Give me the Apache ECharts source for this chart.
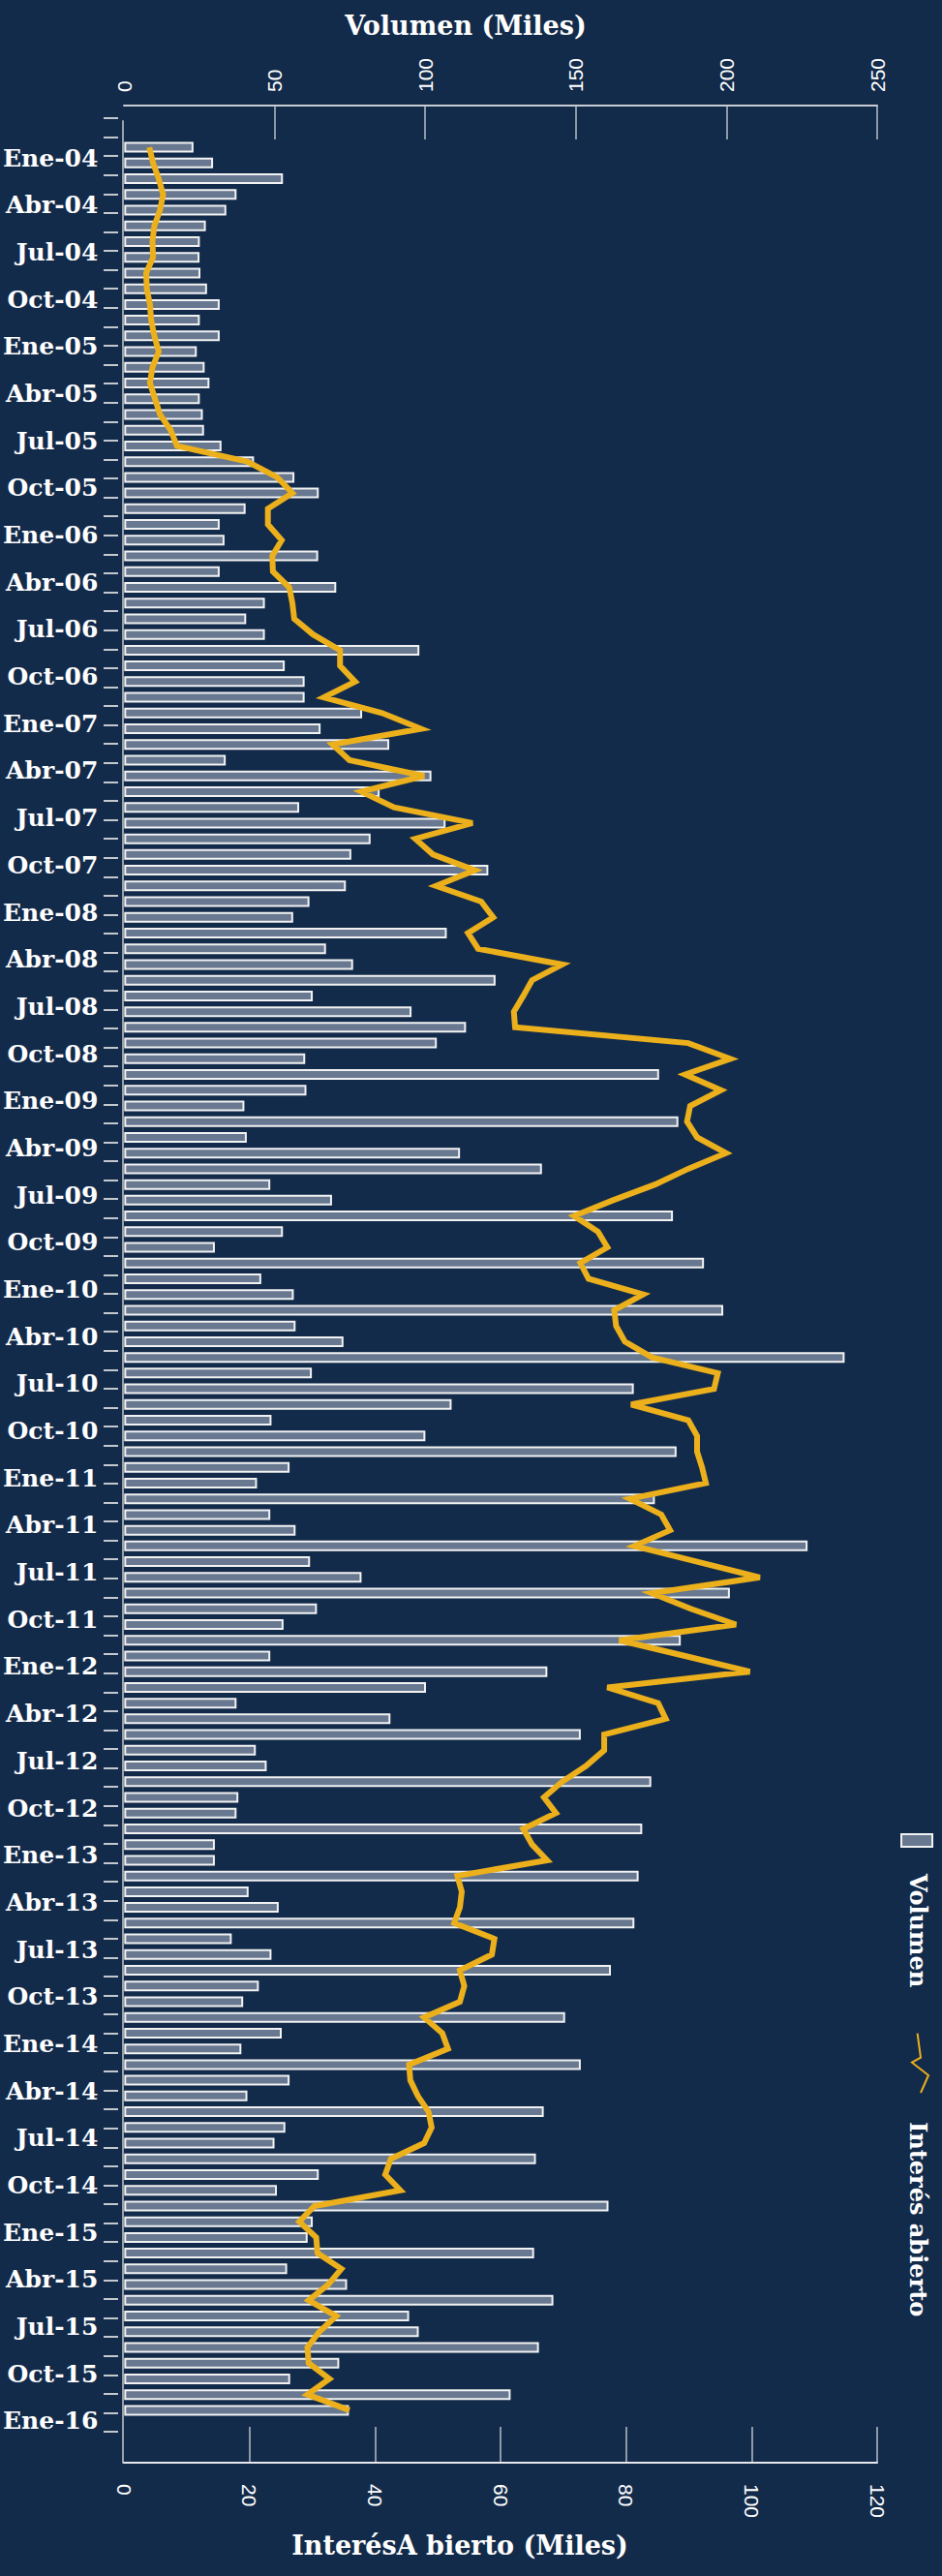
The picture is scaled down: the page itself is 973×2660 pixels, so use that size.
<!DOCTYPE html>
<html><head><meta charset="utf-8">
<script src="https://cdn.jsdelivr.net/npm/echarts@6/dist/echarts.min.js"></script>
<style>html,body{margin:0;padding:0;background:#132b4b;}#c{width:973px;height:2660px;}</style>
</head><body><div id="c"></div>
<script>
// ---- DATA ----
const monthNames = ['Ene','Feb','Mar','Abr','May','Jun','Jul','Ago','Sep','Oct','Nov','Dic'];
const yearLabels = ['04','05','06','07','08','09','10','11','12','13','14','15','16'];
const categories = [];
yearLabels.forEach(function (y) { monthNames.forEach(function (m) { categories.push(m + '-' + y); }); });
categories.length = 145; // Ene-04 ... Ene-16

const volumeTicks = [0, 50, 100, 150, 200, 250];
const openInterestTicks = [0, 20, 40, 60, 80, 100, 120];

// Volumen (Miles)
const volume = [
  23.0, 29.5, 52.7, 37.3, 33.9, 27.1, 25.1, 25.0, 25.3, 27.5, 31.7, 25.1,
  31.7, 24.1, 26.7, 28.3, 25.1, 26.1, 26.5, 32.3, 43.1, 56.5, 64.6, 40.3,
  31.7, 33.3, 64.4, 31.7, 70.4, 46.7, 40.5, 46.7, 98.0, 53.3, 59.9, 59.9,
  79.0, 65.2, 88.0, 33.7, 102.0, 84.8, 58.1, 106.7, 81.8, 75.4, 120.9, 73.6,
  61.5, 56.1, 107.1, 67.0, 76.0, 123.3, 62.6, 95.4, 113.5, 103.8, 60.1, 177.6,
  60.5, 39.9, 184.0, 40.7, 111.5, 138.7, 48.5, 69.0, 182.2, 52.7, 30.1, 192.5,
  45.5, 56.3, 198.9, 56.9, 72.8, 239.2, 62.3, 169.2, 108.7, 48.9, 100.0, 183.4,
  54.9, 44.1, 176.2, 48.5, 56.9, 226.9, 61.7, 78.8, 201.1, 64.0, 52.9, 184.8,
  48.5, 140.5, 100.2, 37.3, 88.4, 151.6, 43.7, 47.3, 175.0, 37.9, 37.3, 172.0,
  30.1, 30.1, 170.8, 41.3, 51.3, 169.4, 35.7, 48.9, 161.6, 44.7, 39.5, 146.4,
  52.3, 38.9, 151.6, 54.9, 40.9, 139.3, 53.5, 49.9, 136.7, 64.6, 50.7, 160.8,
  62.6, 60.9, 136.1, 54.1, 74.0, 142.5, 94.6, 97.8, 137.7, 71.4, 55.1, 128.3,
  74.6
];

// Interés abierto (Miles)
const openInterest = [
  4.0, 4.6, 5.5, 6.2, 5.7, 4.8, 4.5, 4.6, 3.5, 3.6, 4.1, 4.3,
  4.8, 5.5, 4.5, 4.1, 4.9, 5.7, 7.4, 8.4, 19.6, 24.4, 26.8, 22.9,
  22.9, 25.1, 23.6, 23.7, 26.3, 26.8, 27.1, 30.1, 34.4, 34.4, 36.8, 31.8,
  41.1, 47.3, 33.2, 35.9, 47.8, 37.8, 43.0, 55.5, 46.4, 49.2, 55.9, 49.7,
  56.9, 58.8, 54.8, 56.4, 69.8, 65.0, 63.6, 62.1, 62.3, 89.9, 96.6, 89.4,
  95.1, 90.2, 89.7, 91.3, 95.9, 89.9, 84.6, 77.9, 71.7, 75.5, 77.0, 72.7,
  74.0, 82.7, 78.1, 78.4, 79.8, 84.1, 94.6, 94.0, 80.8, 89.9, 91.3, 91.3,
  92.1, 92.7, 80.6, 85.6, 87.0, 81.3, 91.3, 101.3, 84.1, 90.3, 97.5, 78.9,
  89.4, 99.7, 77.0, 85.1, 86.3, 76.5, 76.5, 73.6, 69.8, 66.9, 68.8, 63.6,
  65.0, 67.4, 53.1, 53.8, 53.5, 52.6, 59.0, 58.6, 53.5, 54.2, 53.5, 47.8,
  50.7, 51.6, 45.4, 45.6, 46.8, 48.5, 49.0, 47.8, 42.5, 41.6, 44.0, 30.3,
  27.9, 30.6, 30.8, 34.6, 32.5, 29.4, 33.8, 31.1, 29.2, 29.4, 32.7, 29.2,
  35.9
];

const seriesNames = ['Volumen', 'Interés abierto'];
const axisTitles = ['Volumen (Miles)', 'InterésA bierto (Miles)'];

// ---- STYLE ----
const BG = '#132b4b';
const BAR_FILL = '#677890';
const BAR_EDGE = '#f2f2f2';
const LINE_COLOR = '#ebb01b';
const SERIF = '"DejaVu Serif", serif';
const SANS = '"Liberation Sans", sans-serif';
const L = 128, R = 67;

const chart = echarts.init(document.getElementById('c'), null, { renderer: 'svg', width: 973, height: 2660 });

function step(t) { return t[1] - t[0]; }

const titleStyle = { color: '#ffffff', fontFamily: SERIF, fontSize: 27, fontWeight: 'bold' };

const option = {
  backgroundColor: BG,
  animation: false,
  title: [
    { text: axisTitles[0], left: 481, top: 13, textAlign: 'center', padding: 0, textStyle: titleStyle },
    { text: axisTitles[1], left: 475, top: 2615, textAlign: 'center', padding: 0, textStyle: titleStyle }
  ],
  grid: [
    { left: L, right: R, top: 144, bottom: 163 },       // 0 main plot
    { left: L, right: R, top: 109, height: 35 },        // 1 top axis band
    { left: L, right: R, top: 2506, height: 37 },       // 2 bottom axis band
    { left: 127, right: R, top: 125, bottom: 117 },     // 3 y axis line
    { left: 127, right: R, top: 122, bottom: 149 }      // 4 y axis ticks
  ],
  xAxis: [
    { gridIndex: 0, type: 'value', min: volumeTicks[0], max: volumeTicks[volumeTicks.length - 1], show: false },
    { gridIndex: 0, type: 'value', min: openInterestTicks[0], max: openInterestTicks[openInterestTicks.length - 1], show: false },
    {
      gridIndex: 1, type: 'value', position: 'top',
      min: volumeTicks[0], max: volumeTicks[volumeTicks.length - 1], interval: step(volumeTicks),
      axisLine: { show: true, onZero: false, lineStyle: { color: '#c9ccd2', width: 2 } },
      axisTick: { show: false },
      splitLine: { show: true, showMinLine: false, lineStyle: { color: '#b9bec6', width: 1.5 } },
      axisLabel: { rotate: -90, color: '#ffffff', fontFamily: SANS, fontSize: 21, margin: 14 }
    },
    {
      gridIndex: 2, type: 'value', position: 'bottom',
      min: openInterestTicks[0], max: openInterestTicks[openInterestTicks.length - 1], interval: step(openInterestTicks),
      axisLine: { show: true, onZero: false, lineStyle: { color: '#e6e8ec', width: 2 } },
      axisTick: { show: false },
      splitLine: { show: true, showMinLine: false, lineStyle: { color: '#b9bec6', width: 1.5 } },
      axisLabel: { rotate: -90, color: '#ffffff', fontFamily: SANS, fontSize: 21, margin: 22 }
    },
    { gridIndex: 3, type: 'value', show: false },
    { gridIndex: 4, type: 'value', show: false }
  ],
  yAxis: [
    {
      gridIndex: 0, type: 'category', inverse: true, data: categories,
      axisLine: { show: false }, axisTick: { show: false }, splitLine: { show: false },
      axisLabel: { interval: 2, color: '#ffffff', fontFamily: SERIF, fontSize: 25, fontWeight: 'bold',
                   margin: 27, verticalAlign: 'top', lineHeight: 22 }
    },
    { gridIndex: 1, type: 'value', show: false },
    { gridIndex: 2, type: 'value', show: false },
    {
      gridIndex: 3, type: 'value', min: 0, max: 1,
      axisLine: { show: true, onZero: false, lineStyle: { color: '#9aa1ab', width: 2 } },
      axisTick: { show: false }, axisLabel: { show: false }, splitLine: { show: false }
    },
    {
      gridIndex: 4, type: 'value', inverse: true, min: 0, max: 122, interval: 1, offset: 5,
      axisLine: { show: false, onZero: false },
      axisTick: { show: true, length: 15, lineStyle: { color: '#c3c7ce', width: 2 } },
      axisLabel: { show: false }, splitLine: { show: false }
    }
  ],
  series: [
    {
      name: seriesNames[0], type: 'bar', xAxisIndex: 0, yAxisIndex: 0,
      data: volume, barWidth: 11,
      itemStyle: { color: BAR_FILL, borderColor: BAR_EDGE, borderWidth: 2 }
    },
    {
      name: seriesNames[1], type: 'line', xAxisIndex: 1, yAxisIndex: 0,
      data: openInterest, symbol: 'none', z: 5,
      lineStyle: { color: LINE_COLOR, width: 6, join: 'miter' }
    }
  ],
  graphic: [
    { type: 'rect', shape: { x: 931, y: 1894, width: 32, height: 13 },
      style: { fill: BAR_FILL, stroke: BAR_EDGE, lineWidth: 2 } },
    { type: 'text', x: 948, y: 1935, rotation: -Math.PI / 2,
      style: { text: seriesNames[0], fill: '#ffffff', font: 'bold 24px ' + SERIF, align: 'left', verticalAlign: 'middle' } },
    { type: 'polyline', shape: { points: [[947.6, 2099.7], [951, 2124.7], [942, 2129.7], [959, 2143], [951, 2161]] },
      style: { stroke: LINE_COLOR, lineWidth: 2, fill: null } },
    { type: 'text', x: 948, y: 2191, rotation: -Math.PI / 2,
      style: { text: seriesNames[1], fill: '#ffffff', font: 'bold 24px ' + SERIF, align: 'left', verticalAlign: 'middle' } }
  ]
};
chart.setOption(option);
</script>
</body></html>
